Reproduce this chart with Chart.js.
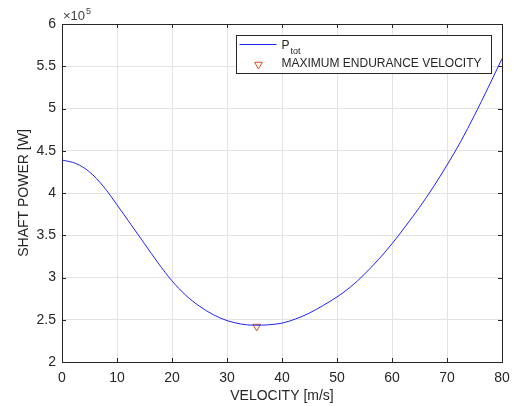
<!DOCTYPE html>
<html>
<head>
<meta charset="utf-8">
<script src="https://cdn.jsdelivr.net/npm/chart.js@4.4.0/dist/chart.umd.min.js"></script>
<style>
    html, body { margin: 0; padding: 0; background: #ffffff; }
    #wrap { width: 524px; height: 406px; }
</style>
</head>
<body>
<div id="wrap"><canvas id="powerChart" width="524" height="406"></canvas></div>
<script>
// Data
const velocity = [0, 2.5, 5, 7.5, 10, 12.5, 15, 17.5, 20, 22.5, 25, 27.5, 30, 32.5, 35, 37.5,
                  40, 42.5, 45, 47.5, 50, 52.5, 55, 57.5, 60, 62.5, 65, 67.5, 70, 72.5, 75, 77.5, 80];
const shaftPower = [439000, 435000, 425000, 408000, 386000, 363000, 340000, 317000, 296000, 279000,
                    266000, 256000, 249000, 245000, 243500, 244000, 246000, 251000, 258000, 267000,
                    277000, 289000, 304000, 321000, 340000, 361000, 383000, 407000, 433000, 461000,
                    492000, 525000, 559000];
const enduranceVelocity = [35.4];
const endurancePower = [242000];

const xTicks = [0, 10, 20, 30, 40, 50, 60, 70, 80];
const yTicks = [200000, 250000, 300000, 350000, 400000, 450000, 500000, 550000, 600000];

const seriesLabels = ['P', 'MAXIMUM ENDURANCE VELOCITY'];

// Styling
const AXIS_COLOR = '#262626';
const GRID_COLOR = '#e3e3e3';
const LINE_COLOR = '#2222ee';
const MARKER_COLOR = '#d95319';
const FONT = 'Liberation Sans, Arial, Helvetica, sans-serif';

// Frame, inward ticks, exponent label and legend (MATLAB look)
const matlabFrame = {
    id: 'matlabFrame',
    beforeDatasetsDraw(chart) {
        const { ctx, chartArea: a, scales } = chart;
        ctx.save();
        ctx.strokeStyle = AXIS_COLOR;
        ctx.lineWidth = 1;
        ctx.beginPath();
        scales.x.ticks.forEach(t => {
            const px = Math.round(scales.x.getPixelForValue(t.value)) + 0.5;
            ctx.moveTo(px, a.bottom); ctx.lineTo(px, a.bottom - 4);
            ctx.moveTo(px, a.top); ctx.lineTo(px, a.top + 4);
        });
        scales.y.ticks.forEach(t => {
            const py = Math.round(scales.y.getPixelForValue(t.value)) + 0.5;
            ctx.moveTo(a.left, py); ctx.lineTo(a.left + 4, py);
            ctx.moveTo(a.right, py); ctx.lineTo(a.right - 4, py);
        });
        ctx.stroke();
        ctx.strokeRect(Math.round(a.left) + 0.5, Math.round(a.top) + 0.5,
                       Math.round(a.right - a.left), Math.round(a.bottom - a.top));
        ctx.restore();
    },
    afterDraw(chart) {
        const { ctx, chartArea: a } = chart;
        ctx.save();

        // x10^5 multiplier
        ctx.fillStyle = '#404040';
        ctx.textBaseline = 'alphabetic';
        ctx.textAlign = 'left';
        ctx.font = '13px ' + FONT;
        ctx.fillText('\u00d710', a.left + 1, a.top - 4);
        const w = ctx.measureText('\u00d710').width;
        ctx.font = '9px ' + FONT;
        ctx.fillText('5', a.left + 1 + w + 1, a.top - 10);

        // legend box
        const bx = a.left + 174.5, by = a.top + 11.5, bw = 255, bh = 38;
        ctx.fillStyle = '#ffffff';
        ctx.fillRect(bx, by, bw, bh);
        ctx.strokeStyle = AXIS_COLOR;
        ctx.lineWidth = 1;
        ctx.strokeRect(bx, by, bw, bh);

        // row 1: line sample + P_tot
        ctx.strokeStyle = LINE_COLOR;
        ctx.beginPath();
        ctx.moveTo(bx + 3, by + 9);
        ctx.lineTo(bx + 40, by + 9);
        ctx.stroke();
        ctx.fillStyle = AXIS_COLOR;
        ctx.font = '12px ' + FONT;
        ctx.fillText(seriesLabels[0], bx + 45, by + 13);
        const pw = ctx.measureText(seriesLabels[0]).width;
        ctx.font = '9px ' + FONT;
        ctx.fillText('tot', bx + 45 + pw + 1, by + 18);

        // row 2: marker + text
        ctx.strokeStyle = MARKER_COLOR;
        ctx.fillStyle = 'rgba(0,0,0,0)';
        Chart.helpers.drawPoint(ctx, {
            pointStyle: 'triangle', rotation: 180, radius: 4.5, borderWidth: 1
        }, bx + 22, by + 29);
        ctx.font = '12px ' + FONT;
        ctx.fillStyle = AXIS_COLOR;
        ctx.textBaseline = 'middle';
        ctx.fillText(seriesLabels[1], bx + 45, by + 28);
        ctx.restore();
    }
};

// Chart
const ctx = document.getElementById('powerChart').getContext('2d');
const powerChart = new Chart(ctx, {
    type: 'line',
    data: {
        datasets: [{
            label: 'Ptot',
            data: velocity.map((v, i) => ({ x: v, y: shaftPower[i] })),
            borderColor: LINE_COLOR,
            borderWidth: 1,
            pointRadius: 0,
            cubicInterpolationMode: 'monotone',
            fill: false
        }, {
            label: 'MAXIMUM ENDURANCE VELOCITY',
            data: enduranceVelocity.map((v, i) => ({ x: v, y: endurancePower[i] })),
            showLine: false,
            pointStyle: 'triangle',
            rotation: 180,
            pointRadius: 4.5,
            pointBorderWidth: 1,
            pointBorderColor: MARKER_COLOR,
            pointBackgroundColor: 'rgba(0,0,0,0)'
        }]
    },
    options: {
        responsive: false,
        animation: false,
        layout: { padding: { top: 24, right: 22, left: 0, bottom: 0 } },
        plugins: {
            legend: { display: false },
            tooltip: { enabled: false }
        },
        scales: {
            x: {
                type: 'linear',
                min: 0,
                max: 80,
                afterBuildTicks: s => { s.ticks = xTicks.map(v => ({ value: v })); },
                afterFit: s => { s.height = 44; },
                grid: { color: GRID_COLOR, drawTicks: false },
                border: { display: false },
                ticks: { color: AXIS_COLOR, font: { family: FONT, size: 14 }, padding: 8, maxRotation: 0 },
                title: {
                    display: true,
                    text: 'VELOCITY [m/s]',
                    color: AXIS_COLOR,
                    font: { family: FONT, size: 14 },
                    padding: { top: 0, bottom: 1 }
                }
            },
            y: {
                type: 'linear',
                min: 200000,
                max: 600000,
                afterBuildTicks: s => { s.ticks = yTicks.map(v => ({ value: v })); },
                afterFit: s => { s.width = 62; },
                grid: { color: GRID_COLOR, drawTicks: false },
                border: { display: false },
                ticks: {
                    color: AXIS_COLOR,
                    font: { family: FONT, size: 14 },
                    padding: 6,
                    callback: v => String(v / 100000)
                },
                title: {
                    display: true,
                    text: 'SHAFT POWER [W]',
                    color: AXIS_COLOR,
                    font: { family: FONT, size: 14 },
                    padding: { top: 16, bottom: 0 }
                }
            }
        }
    },
    plugins: [matlabFrame]
});
</script>
</body>
</html>
